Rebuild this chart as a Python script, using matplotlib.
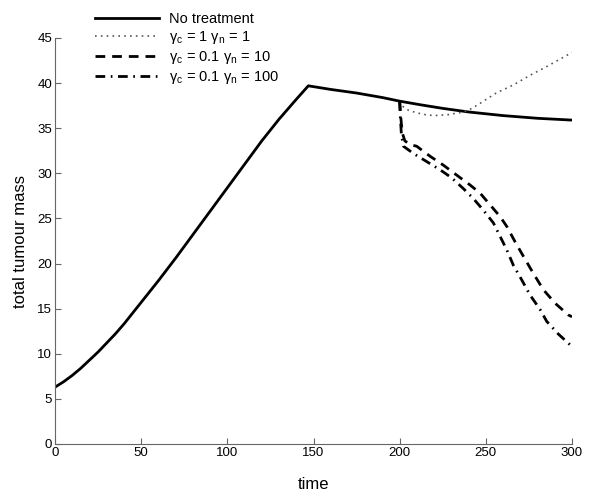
import matplotlib
matplotlib.use("Agg")
import matplotlib.pyplot as plt

plt.rcParams['font.family'] = ['Liberation Sans', 'DejaVu Sans']
plt.rcParams['mathtext.fontset'] = 'custom'
plt.rcParams['mathtext.rm'] = 'Liberation Sans'

# no treatment (whole run)
t_base = [0, 5, 10, 15, 20, 25, 30, 35, 40, 45, 50, 60, 70, 80, 90, 100, 110,
          120, 130, 140, 147, 160, 175, 190, 200, 212, 225, 240, 260, 280, 300]
m_base = [6.3, 6.9, 7.6, 8.4, 9.3, 10.2, 11.2, 12.2, 13.3, 14.5, 15.7, 18.1, 20.6,
          23.2, 25.8, 28.4, 31.0, 33.6, 36.0, 38.2, 39.7, 39.3, 38.9, 38.4, 38.0,
          37.6, 37.2, 36.8, 36.4, 36.1, 35.9]

# treatment starts at t = 200
t_g1 = [200, 202, 205, 210, 215, 220, 228, 237, 242, 247, 256, 266, 276, 285, 300]
m_g1 = [38.0, 37.4, 37.0, 36.7, 36.5, 36.4, 36.5, 36.8, 37.2, 37.8, 38.9, 39.8, 40.9, 41.8, 43.4]

t_g10 = [200, 200.5, 201.5, 203, 206, 209.9, 217.6, 225.4, 233.1, 240.9, 246.7, 252.5,
         258.3, 262.2, 267, 271.8, 277.6, 283.4, 290.2, 297.9, 300]
m_g10 = [38.0, 36.5, 34.5, 33.6, 33.2, 33.0, 31.9, 30.9, 29.8, 28.7, 27.8, 26.5,
         25.2, 24.1, 22.4, 20.8, 18.9, 17.1, 15.6, 14.3, 14.1]

t_g100 = [200, 200.3, 201, 202.2, 208, 215.7, 223.4, 230.2, 237, 242.8, 248.6, 254.4,
          258.3, 262.2, 266, 270.8, 275.7, 281.5, 285.3, 292, 300]
m_g100 = [38.0, 36.5, 34.3, 33.0, 32.2, 31.3, 30.4, 29.5, 28.3, 27.2, 25.9, 24.5,
          23.0, 21.5, 19.8, 18.2, 16.5, 14.9, 13.6, 12.2, 10.8]

labels = ['No treatment',
          r'γ$_\mathrm{c}$ = 1 γ$_\mathrm{n}$ = 1',
          r'γ$_\mathrm{c}$ = 0.1 γ$_\mathrm{n}$ = 10',
          r'γ$_\mathrm{c}$ = 0.1 γ$_\mathrm{n}$ = 100']

fig = plt.figure(figsize=(6, 5), dpi=100)
ax = fig.add_axes([55/600, 1-444/500, (572-55)/600, (444-38)/500])

ax.plot(t_base, m_base, color='black', lw=2.0, label=labels[0])
ax.plot(t_g1, m_g1, color='#555555', lw=1.2, ls=(0, (1, 2.5)), label=labels[1])
ax.plot(t_g10, m_g10, color='black', lw=2.0, ls=(0, (3.5, 2.5)), label=labels[2])
ax.plot(t_g100, m_g100, color='black', lw=2.0, ls=(0, (3.5, 2, 0.6, 2)), label=labels[3])

ax.set_xlim(0, 300)
ax.set_ylim(0, 45)
ax.set_xticks(range(0, 301, 50))
ax.set_yticks(range(0, 46, 5))
for s in ['top', 'right']:
    ax.spines[s].set_visible(False)
for s in ['left', 'bottom']:
    ax.spines[s].set_color('#666666')
    ax.spines[s].set_linewidth(0.8)
ax.tick_params(direction='in', length=4, color='#666666', labelsize=9.5, pad=2)

ax.set_xlabel('time', fontsize=12, labelpad=13)
ax.set_ylabel('total tumour mass', fontsize=12, labelpad=7)

fig.legend(loc='upper left', bbox_to_anchor=(95/600, 1-12/500), frameon=False,
           fontsize=10.5, handlelength=4.4, handletextpad=0.7, labelspacing=0.2,
           borderpad=0, borderaxespad=0)

fig.savefig('out.png', dpi=100)
